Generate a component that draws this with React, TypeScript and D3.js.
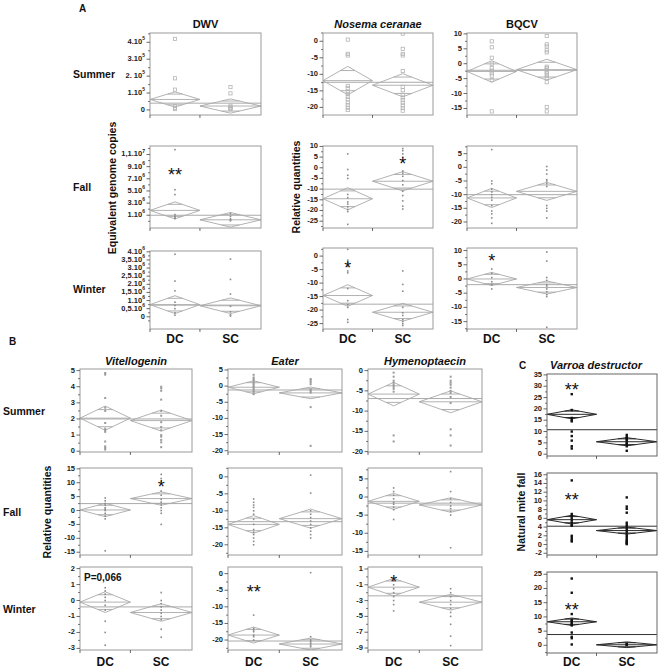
import React from "react";
import * as d3 from "d3";

// ================= PANEL A : DWV =================
const dwvSummerDomain = [-0.3e5, 4.55e5];
const dwvSummerTicks = [0, 1e5, 2e5, 3e5, 4e5];
const dwvSummerLabels = ["0", "1.10^5", "2. 10^5", "3.10^5", "4.10^5"];
const dwvSummerDC = [4.2e5, 1.87e5, 1.2e5, 0.22e5, 0.12e5, 0.05e5];
const dwvSummerSC = [1.35e5, 0.98e5, 0.25e5, 0.15e5, 0.1e5, 0.05e5];
const dwvSummerStats = [0.62e5, 0.45e5, 0.23e5, 0.42e5, 0.4e5]; // dcMean, dcCI, scMean, scCI, grandMean

const dwvFallDomain = [-1.1e6, 1.24e7];
const dwvFallTicks = [1e6, 3e6, 5e6, 7e6, 9e6, 11e6];
const dwvFallLabels = ["1.10^6", "3.10^6", "5.10^6", "7.10^6", "9.10^6", "1,1.10^7"];
const dwvFallDC = [11.8e6, 5.2e6, 4.4e6, 1.1e6, 0.8e6, 0.6e6, 0.45e6];
const dwvFallSC = [1.3e6, 0.8e6, 0.4e6, 0.2e6, 0.1e6];
const dwvFallStats = [1.8e6, 1.4e6, 0.25e6, 1.2e6, 1.0e6];
const dwvFallStar = { text: "**", value: 8.1e6, group: 0 };

const dwvWinterDomain = [-0.75e6, 4.05e6];
const dwvWinterTicks = [0, 0.5e6, 1e6, 1.5e6, 2e6, 2.5e6, 3e6, 3.5e6, 4e6];
const dwvWinterLabels = ["0", "0,5.10^6", "1.10^6", "1,5.10^6", "2.10^6", "2,5.10^6", "3.10^6", "3,5.10^6", "4.10^6"];
const dwvWinterDC = [3.85e6, 2.2e6, 1.6e6, 0.9e6, 0.7e6, 0.5e6, 0.25e6, 0.1e6];
const dwvWinterSC = [3.55e6, 2.3e6, 1.4e6, 0.65e6, 0.3e6, 0.12e6, 0.05e6];
const dwvWinterStats = [0.75e6, 0.55e6, 0.68e6, 0.48e6, 0.72e6];

// ================= PANEL A : Nosema ceranae =================
const nosSummerDomain = [-22.3, 2.5];
const nosSummerTicks = [-20, -15, -10, -5, 0];
const nosSummerDC = [0.5, -3.8, -4.3, -13.5, -14.2, -15.3, -16, -16.8, -17.6, -18.5, -19.3, -20.1, -20.8];
const nosSummerSC = [2.3, -2.3, -3.8, -4.3, -9, -13.8, -14.8, -16.2, -17, -17.8, -18.6, -19.4, -20.2, -21];
const nosSummerStats = [-11.9, 4.3, -13.3, 3.5, -12.4];

const nosFallDomain = [-28.2, 10.2];
const nosFallTicks = [-25, -20, -15, -10, -5, 0, 5, 10];
const nosFallDC = [6.5, -0.8, -3.5, -5, -12.5, -14, -16, -17, -18.3, -19.5, -20.5, -26.5];
const nosFallSC = [9, 8, 6.5, 5, 3.5, -1.5, -2.5, -4, -6, -8, -11, -13, -15.5, -18, -19.3];
const nosFallStats = [-14.5, 5.2, -6.3, 4.5, -10];
const nosFallStar = { text: "*", value: 3.3, group: 1 };

const nosWinterDomain = [-27, 3];
const nosWinterTicks = [-25, -20, -15, -10, -5, 0];
const nosWinterDC = [2.5, -1.5, -2.5, -3.8, -5.5, -6.2, -12, -16.5, -18, -19, -23.5, -24.5];
const nosWinterSC = [-5.5, -10.5, -13, -19, -21, -22, -23.5, -24.2, -25, -25.7];
const nosWinterStats = [-14.6, 4.0, -20.8, 3.3, -17.8];
const nosWinterStar = { text: "*", value: -3.2, group: 0 };

// ================= PANEL A : BQCV =================
const bqcvSummerDomain = [-17.2, 10.3];
const bqcvSummerTicks = [-15, -10, -5, 0, 5, 10];
const bqcvSummerDC = [7.5, 5.5, 2, 0, -1.5, -2.3, -3.2, -4, -5.5, -16];
const bqcvSummerSC = [9.3, 6.5, 5.8, 4.5, 3.8, -1, -1.5, -2, -2.7, -3.3, -4, -4.7, -6.2, -14.5, -16];
const bqcvSummerStats = [-2.6, 3.6, -2.0, 3.5, -2.2];

const bqcvFallDomain = [-22.2, 7.8];
const bqcvFallTicks = [-20, -15, -10, -5, 0, 5];
const bqcvFallDC = [6.5, -5, -6, -8, -9, -10, -11, -12, -14, -16, -17, -18.5, -20.5];
const bqcvFallSC = [0.3, -1, -2.5, -4.5, -5, -6, -7, -14, -15, -16, -18.5];
const bqcvFallStats = [-11.2, 3.5, -8.8, 3.3, -10];

const bqcvWinterDomain = [-17.6, 10.9];
const bqcvWinterTicks = [-15, -10, -5, 0, 5, 10];
const bqcvWinterDC = [3.5, 2, 0.5, -1, -2, -3.5];
const bqcvWinterSC = [9.5, 6.3, 0.5, -0.5, -2, -2.5, -3.5, -4.5, -5.5, -6.2, -17];
const bqcvWinterStats = [0, 2.3, -3, 2.3, -2];
const bqcvWinterStar = { text: "*", value: 7.5, group: 0 };

// ================= PANEL B : Vitellogenin =================
const vitSummerDomain = [-0.05, 5.1];
const vitSummerTicks = [0, 1, 2, 3, 4, 5];
const vitSummerDC = [4.85, 4.75, 3.3, 2.7, 2.5, 1.75, 1.4, 1.3, 1.2, 0.6, 0.3, 0.2, 0.1];
const vitSummerSC = [4.0, 3.9, 3.75, 3.2, 2.5, 2.2, 1.8, 1.5, 1.3, 1.0, 0.9, 0.7, 0.55, 0.25];
const vitSummerStats = [2.05, 0.75, 1.9, 0.65, 2.0];

const vitFallDomain = [-16, 15.3];
const vitFallTicks = [-15, -10, -5, 0, 5, 10, 15];
const vitFallDC = [4.5, 3.5, 2.5, 2, 1, 0.5, 0, -1, -2, -3, -14.5];
const vitFallSC = [13, 11.5, 10.5, 7, 5.5, 4, 3, 2, 1, 0, -1, -5];
const vitFallStats = [0.2, 2.4, 4.3, 2.4, 2.5];
const vitFallStar = { text: "*", value: 9.5, group: 1 };

const vitWinterDomain = [-3.1, 2.1];
const vitWinterTicks = [-3, -2, -1, 0, 1, 2];
const vitWinterDC = [0.8, 0.6, 0.4, 0.2, 0, -0.3, -0.6, -1.3, -2, -2.8];
const vitWinterSC = [0.5, 0, -0.2, -0.4, -0.6, -0.8, -1, -1.2, -1.8, -2.3];
const vitWinterStats = [-0.1, 0.65, -0.75, 0.55, -0.4];
const vitWinterNote = "P=0,066";

// ================= PANEL B : Eater =================
const eatSummerDomain = [-20.4, 5.3];
const eatSummerTicks = [-20, -15, -10, -5, 0, 5];
const eatSummerDC = [3.5, 2.7, 2.2, 1.7, 1.2, 0.7, 0.2, -0.3, -0.8, -1.3, -1.8, -2.5];
const eatSummerSC = [2.2, 1.7, 1.2, 0.6, -1, -1.5, -2, -6.5, -18.5];
const eatSummerStats = [-0.35, 2.0, -2.1, 1.8, -1.2];

const eatFallDomain = [-23, 2.6];
const eatFallTicks = [-20, -15, -10, -5, 0];
const eatFallDC = [-6.5, -7.5, -8.3, -9, -10, -11, -12.5, -14, -15.5, -16.3, -17, -18, -19, -20];
const eatFallSC = [0.5, -4.8, -10, -11, -12, -13, -14, -15, -16, -17, -18];
const eatFallStats = [-14, 2.6, -12.3, 2.8, -13.2];

const eatWinterDomain = [-23, 2];
const eatWinterTicks = [-20, -15, -10, -5, 0];
const eatWinterDC = [-12.5, -16.5, -17, -17.5, -18.5, -19, -20];
const eatWinterSC = [0.3, -19, -20, -20.5, -21, -21.5, -22];
const eatWinterStats = [-18.5, 2.4, -21.2, 1.8, -20.3];
const eatWinterStar = { text: "**", value: -4.5, group: 0 };

// ================= PANEL B : Hymenoptaecin =================
const hymSummerDomain = [-20.1, 0.4];
const hymSummerTicks = [-20, -15, -10, -5, 0];
const hymSummerDC = [-0.5, -1.5, -2.5, -3, -3.5, -4, -4.5, -5.2, -16, -17.5];
const hymSummerSC = [-1.5, -2.5, -3, -3.5, -4.2, -5, -5.5, -6.5, -8, -14.5, -16, -18.5];
const hymSummerStats = [-5.8, 2.9, -7.7, 2.7, -6.9];

const hymFallDomain = [-16, 8];
const hymFallTicks = [-15, -10, -5, 0, 5];
const hymFallDC = [2.5, 1.5, 0.5, -0.5, -1.5, -2, -2.8, -3.5, -6.2];
const hymFallSC = [7, 1.5, -0.5, -1.5, -2.5, -3.2, -4, -5, -14];
const hymFallStats = [-1.2, 2.2, -2.2, 2.0, -1.7];

const hymWinterDomain = [-9.25, 1.25];
const hymWinterTicks = [-9, -7, -5, -3, -1, 1];
const hymWinterDC = [-0.5, -1, -1.5, -2, -2.5, -3, -3.5, -4.3];
const hymWinterSC = [-1.5, -2, -2.5, -3, -3.5, -4, -4.5, -5, -6, -7.5, -8.7];
const hymWinterStats = [-1.3, 1.1, -3.2, 1.0, -2.4];
const hymWinterStar = { text: "*", value: -0.3, group: 0 };

// ================= PANEL C : Varroa destructor =================
const varSummerDomain = [-0.8, 35.4];
const varSummerTicks = [0, 5, 10, 15, 20, 25, 30, 35];
const varSummerDC = [26.5, 19.5, 16, 15, 14.5, 10, 8, 6, 3.5, 2.5];
const varSummerSC = [8.5, 7.5, 7, 6.5, 6, 5, 4.5, 3.5, 1.5];
const varSummerStats = [17.6, 2.0, 5.5, 1.8, 10.8];
const varSummerStar = { text: "**", value: 29.5, group: 0 };

const varFallDomain = [-2.4, 16.4];
const varFallTicks = [-2, 0, 2, 4, 6, 8, 10, 12, 14, 16];
const varFallDC = [14.7, 7, 6.5, 6, 5.5, 5, 4.5, 4.3, 2, 1.5, 1, 0.7];
const varFallSC = [10.8, 8.7, 8.2, 7.3, 5, 4.5, 4, 3.5, 3, 2.5, 2, 1.5, 1, 0.8, 0.5, 0.3, 0.1];
const varFallStats = [5.7, 1.0, 3.2, 0.8, 4.2];
const varFallStar = { text: "**", value: 10.8, group: 0 };

const varWinterDomain = [-2.7, 25.8];
const varWinterTicks = [0, 5, 10, 15, 20, 25];
const varWinterDC = [23.5, 18.5, 11, 9, 8.5, 8, 7.5, 7, 4.5, 3, 2.5, 0.3];
const varWinterSC = [0.5, 0.3, 0.1];
const varWinterStats = [8.3, 1.3, 0.2, 1.0, 3.8];
const varWinterStar = { text: "**", value: 13.6, group: 0 };

const groupNames = ["DC", "SC"];
const seasons = ["Summer", "Fall", "Winter"];

// ================= LAYOUT =================
const FONT = "'Liberation Sans', Arial, Helvetica, sans-serif";
const SPLIT = 0.45;
const colA = [[150, 261], [323, 433], [467, 577]];
const rowA = [[33, 115], [146, 228], [248, 329]];
const colB = [[80, 192], [228, 342], [368, 482]];
const rowB = [[369, 452], [468, 555], [567, 650]];
const colC = [547, 657];
const rowC = [[374, 456], [473, 555], [572, 653]];

const themes: any = {
  A: { frame: "#9a9a9a", diamond: "#a9a9a9", mean: "#a0a0a0" },
  C: { frame: "#666666", diamond: "#2a2a2a", mean: "#333333" },
};

const mk = (xr, yr, domain, ticks, labels, dc, sc, stats, theme, marker, star?, note?) => ({
  xr, yr, domain, ticks, labels, dc, sc, stats, theme, marker, star, note,
});

const panels = [
  mk(colA[0], rowA[0], dwvSummerDomain, dwvSummerTicks, dwvSummerLabels, dwvSummerDC, dwvSummerSC, dwvSummerStats, "A", "sq"),
  mk(colA[1], rowA[0], nosSummerDomain, nosSummerTicks, null, nosSummerDC, nosSummerSC, nosSummerStats, "A", "sq"),
  mk(colA[2], rowA[0], bqcvSummerDomain, bqcvSummerTicks, null, bqcvSummerDC, bqcvSummerSC, bqcvSummerStats, "A", "sq"),
  mk(colA[0], rowA[1], dwvFallDomain, dwvFallTicks, dwvFallLabels, dwvFallDC, dwvFallSC, dwvFallStats, "A", "dot", dwvFallStar),
  mk(colA[1], rowA[1], nosFallDomain, nosFallTicks, null, nosFallDC, nosFallSC, nosFallStats, "A", "dot", nosFallStar),
  mk(colA[2], rowA[1], bqcvFallDomain, bqcvFallTicks, null, bqcvFallDC, bqcvFallSC, bqcvFallStats, "A", "dot"),
  mk(colA[0], [251, rowA[2][1]], dwvWinterDomain, dwvWinterTicks, dwvWinterLabels, dwvWinterDC, dwvWinterSC, dwvWinterStats, "A", "dot"),
  mk(colA[1], rowA[2], nosWinterDomain, nosWinterTicks, null, nosWinterDC, nosWinterSC, nosWinterStats, "A", "dot", nosWinterStar),
  mk(colA[2], rowA[2], bqcvWinterDomain, bqcvWinterTicks, null, bqcvWinterDC, bqcvWinterSC, bqcvWinterStats, "A", "dot", bqcvWinterStar),

  mk(colB[0], rowB[0], vitSummerDomain, vitSummerTicks, null, vitSummerDC, vitSummerSC, vitSummerStats, "A", "dot2"),
  mk(colB[1], rowB[0], eatSummerDomain, eatSummerTicks, null, eatSummerDC, eatSummerSC, eatSummerStats, "A", "dot2"),
  mk(colB[2], rowB[0], hymSummerDomain, hymSummerTicks, null, hymSummerDC, hymSummerSC, hymSummerStats, "A", "dot2"),
  mk(colB[0], rowB[1], vitFallDomain, vitFallTicks, null, vitFallDC, vitFallSC, vitFallStats, "A", "dot", vitFallStar),
  mk(colB[1], rowB[1], eatFallDomain, eatFallTicks, null, eatFallDC, eatFallSC, eatFallStats, "A", "dot"),
  mk(colB[2], rowB[1], hymFallDomain, hymFallTicks, null, hymFallDC, hymFallSC, hymFallStats, "A", "dot"),
  mk(colB[0], rowB[2], vitWinterDomain, vitWinterTicks, null, vitWinterDC, vitWinterSC, vitWinterStats, "A", "dot", null, vitWinterNote),
  mk(colB[1], rowB[2], eatWinterDomain, eatWinterTicks, null, eatWinterDC, eatWinterSC, eatWinterStats, "A", "dot", eatWinterStar),
  mk(colB[2], rowB[2], hymWinterDomain, hymWinterTicks, null, hymWinterDC, hymWinterSC, hymWinterStats, "A", "dot", hymWinterStar),

  mk(colC, rowC[0], varSummerDomain, varSummerTicks, null, varSummerDC, varSummerSC, varSummerStats, "C", "blk", varSummerStar),
  mk(colC, rowC[1], varFallDomain, varFallTicks, null, varFallDC, varFallSC, varFallStats, "C", "blk", varFallStar),
  mk(colC, rowC[2], varWinterDomain, varWinterTicks, null, varWinterDC, varWinterSC, varWinterStats, "C", "blk", varWinterStar),
];

function TickLabel({ x, y, label }) {
  const [base, sup] = String(label).split("^");
  return (
    <text x={x} y={y} textAnchor="end" dominantBaseline="middle" fontSize={7.5} fontWeight="bold" fill="#222" fontFamily={FONT}>
      {base}
      {sup ? (
        <tspan dy={-3} fontSize={5}>
          {sup}
        </tspan>
      ) : null}
    </text>
  );
}

function Marker({ kind, x, y }) {
  if (kind === "sq") return <rect x={x - 1.6} y={y - 1.6} width={3.2} height={3.2} fill="none" stroke="#b4b4b4" strokeWidth={0.8} />;
  if (kind === "blk") return <rect x={x - 1.2} y={y - 1.2} width={2.4} height={2.4} fill="#111" />;
  if (kind === "dot2") return <rect x={x - 1} y={y - 1} width={2} height={2} fill="#9a9a9a" />;
  return <rect x={x - 0.8} y={y - 0.8} width={1.6} height={1.6} fill="#8a8a8a" />;
}

function Panel({ p, idx }) {
  const [x0, x1] = p.xr;
  const [y0, y1] = p.yr;
  const y = d3.scaleLinear().domain(p.domain).range([y1, y0]);
  const x = d3.scaleLinear().domain([0, 1]).range([x0, x1]);
  const th = themes[p.theme];
  const step = p.ticks[1] - p.ticks[0];
  const minors: number[] = [];
  for (let v = p.ticks[0] - step / 2; v <= p.domain[1]; v += step) {
    if (v >= p.domain[0]) minors.push(v);
  }
  const groups = [
    { a: 0, b: SPLIT, pts: p.dc, m: p.stats[0], ci: p.stats[1] },
    { a: SPLIT, b: 1, pts: p.sc, m: p.stats[2], ci: p.stats[3] },
  ];
  const clipId = `clip${idx}`;
  const sw = p.theme === "C" ? 1 : 0.9;
  return (
    <g>
      <defs>
        <clipPath id={clipId}>
          <rect x={x0} y={y0} width={x1 - x0} height={y1 - y0} />
        </clipPath>
      </defs>
      <g clipPath={`url(#${clipId})`}>
        <line x1={x0} x2={x1} y1={y(p.stats[4])} y2={y(p.stats[4])} stroke={th.mean} strokeWidth={sw} />
        {groups.map((g, i) => {
          const xa = x(g.a), xb = x(g.b), xc = (xa + xb) / 2, hw = (xb - xa) / 2;
          const o = g.ci * Math.SQRT1_2;
          const ow = hw * (1 - Math.SQRT1_2);
          const path = d3.path();
          path.moveTo(xa, y(g.m));
          path.lineTo(xc, y(g.m + g.ci));
          path.lineTo(xb, y(g.m));
          path.lineTo(xc, y(g.m - g.ci));
          path.closePath();
          return (
            <g key={i}>
              <path d={path.toString()} fill="none" stroke={th.diamond} strokeWidth={sw} />
              <line x1={xa} x2={xb} y1={y(g.m)} y2={y(g.m)} stroke={th.diamond} strokeWidth={sw} />
              <line x1={xc - ow} x2={xc + ow} y1={y(g.m + o)} y2={y(g.m + o)} stroke={th.diamond} strokeWidth={sw} />
              <line x1={xc - ow} x2={xc + ow} y1={y(g.m - o)} y2={y(g.m - o)} stroke={th.diamond} strokeWidth={sw} />
              {g.pts.map((v, j) => (
                <Marker key={j} kind={p.marker} x={xc} y={y(v)} />
              ))}
            </g>
          );
        })}
      </g>
      <rect x={x0} y={y0} width={x1 - x0} height={y1 - y0} fill="none" stroke={th.frame} strokeWidth={1} />
      {minors.map((v, i) => (
        <line key={"m" + i} x1={x0 - 2} x2={x0} y1={y(v)} y2={y(v)} stroke="#444" strokeWidth={0.7} />
      ))}
      {p.ticks.map((v, i) => (
        <g key={"t" + i}>
          <line x1={x0 - 3.5} x2={x0} y1={y(v)} y2={y(v)} stroke="#444" strokeWidth={0.8} />
          <TickLabel x={x0 - 5} y={y(v)} label={p.labels ? p.labels[i] : String(v)} />
        </g>
      ))}
      <line x1={x(SPLIT)} x2={x(SPLIT)} y1={y1} y2={y1 + 3} stroke="#444" strokeWidth={0.8} />
      <line x1={x0} x2={x0} y1={y1} y2={y1 + 3} stroke="#444" strokeWidth={0.8} />
      {p.star ? (
        <text
          x={(x(groups[p.star.group].a) + x(groups[p.star.group].b)) / 2}
          y={y(p.star.value) + 9}
          textAnchor="middle"
          fontSize={18}
          fill="#111"
          fontFamily={FONT}
        >
          {p.star.text}
        </text>
      ) : null}
      {p.note ? (
        <text x={x0 + 4} y={y0 + 14} fontSize={10} fontWeight="bold" fill="#111" fontFamily={FONT}>
          {p.note}
        </text>
      ) : null}
    </g>
  );
}

function GroupLabels({ xr, yBase }) {
  const x = d3.scaleLinear().domain([0, 1]).range(xr);
  const centers = [SPLIT / 2, (1 + SPLIT) / 2];
  return (
    <g>
      {groupNames.map((g, i) => (
        <text key={g} x={x(centers[i])} y={yBase} textAnchor="middle" fontSize={12} fontWeight="bold" fill="#111" fontFamily={FONT}>
          {g}
        </text>
      ))}
    </g>
  );
}

const T = (props) => <text fontFamily={FONT} fontWeight="bold" fill="#111" {...props} />;

export default function App() {
  return (
    <svg width={660} height={670} style={{ position: "absolute", left: 0, top: 0, background: "#fff" }}>
      <rect width={660} height={670} fill="#fff" />
      {/* Panel letters */}
      <T x={79} y={12} fontSize={10}>A</T>
      <T x={9} y={345} fontSize={10}>B</T>
      <T x={519} y={369} fontSize={10}>C</T>

      {/* Titles A */}
      <T x={(colA[0][0] + colA[0][1]) / 2} y={28} fontSize={11} textAnchor="middle">DWV</T>
      <T x={(colA[1][0] + colA[1][1]) / 2} y={28} fontSize={11} textAnchor="middle" fontStyle="italic">Nosema ceranae</T>
      <T x={(colA[2][0] + colA[2][1]) / 2} y={28} fontSize={11} textAnchor="middle">BQCV</T>

      {/* Titles B, C */}
      <T x={(colB[0][0] + colB[0][1]) / 2} y={365} fontSize={11} textAnchor="middle" fontStyle="italic">Vitellogenin</T>
      <T x={(colB[1][0] + colB[1][1]) / 2} y={365} fontSize={11} textAnchor="middle" fontStyle="italic">Eater</T>
      <T x={(colB[2][0] + colB[2][1]) / 2} y={365} fontSize={11} textAnchor="middle" fontStyle="italic">Hymenoptaecin</T>
      <T x={596} y={369} fontSize={11} textAnchor="middle" fontStyle="italic">Varroa destructor</T>

      {/* Row labels */}
      {seasons.map((s, i) => (
        <T key={"ra" + i} x={73} y={(rowA[i][0] + rowA[i][1]) / 2 + 4} fontSize={10.5}>{s}</T>
      ))}
      {seasons.map((s, i) => (
        <T key={"rb" + i} x={3} y={(rowB[i][0] + rowB[i][1]) / 2 + 4} fontSize={10.5}>{s}</T>
      ))}

      {/* Axis titles */}
      <T transform="translate(116,188) rotate(-90)" fontSize={10.5} textAnchor="middle">Equivalent genome copies</T>
      <T transform="translate(300,187) rotate(-90)" fontSize={10.5} textAnchor="middle">Relative quantities</T>
      <T transform="translate(51,512) rotate(-90)" fontSize={10.5} textAnchor="middle">Relative quantities</T>
      <T transform="translate(525,512) rotate(-90)" fontSize={10.5} textAnchor="middle">Natural mite fall</T>

      {panels.map((p, i) => (
        <Panel key={i} p={p} idx={i} />
      ))}

      {colA.map((c, i) => (
        <GroupLabels key={"ga" + i} xr={c} yBase={343} />
      ))}
      {colB.map((c, i) => (
        <GroupLabels key={"gb" + i} xr={c} yBase={666} />
      ))}
      <GroupLabels xr={colC} yBase={666} />
    </svg>
  );
}
